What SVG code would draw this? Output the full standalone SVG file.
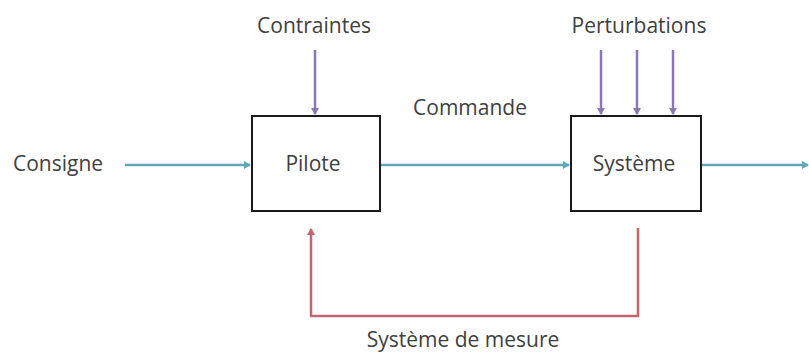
<svg xmlns="http://www.w3.org/2000/svg" width="809" height="354" viewBox="0 0 809 354">
<style>
text{font-family:"Open Sans","Liberation Sans",sans-serif;font-size:21px;fill:#404040}
.box{fill:#fff;stroke:#1a1a1a;stroke-width:2}
.t{stroke:#5fa8b8;stroke-width:2.5;fill:none}
.p{stroke:#8a78b4;stroke-width:2.5;fill:none}
.r{stroke:#c4666e;stroke-width:2.5;fill:none}
</style>
<defs>
<marker id="at" markerWidth="8" markerHeight="8" refX="6" refY="4" orient="auto" markerUnits="userSpaceOnUse"><path d="M0,0 L7,4 L0,8 z" fill="#5fa8b8"/></marker>
<marker id="ap" markerWidth="8" markerHeight="8" refX="6" refY="4" orient="auto" markerUnits="userSpaceOnUse"><path d="M0,0 L7,4 L0,8 z" fill="#8a78b4"/></marker>
<marker id="ar" markerWidth="8" markerHeight="8" refX="6" refY="4" orient="auto" markerUnits="userSpaceOnUse"><path d="M0,0 L7,4 L0,8 z" fill="#c4666e"/></marker>
</defs>
<rect width="809" height="354" fill="#fff"/>
<g id="connectors">
<line class="t" x1="125" y1="165" x2="250" y2="165" marker-end="url(#at)"/>
<line class="t" x1="381" y1="165" x2="569" y2="165" marker-end="url(#at)"/>
<line class="t" x1="702" y1="165" x2="808" y2="165" marker-end="url(#at)"/>
<line class="p" x1="315" y1="50" x2="315" y2="114" marker-end="url(#ap)"/>
<line class="p" x1="601" y1="50" x2="601" y2="114" marker-end="url(#ap)"/>
<line class="p" x1="637" y1="50" x2="637" y2="114" marker-end="url(#ap)"/>
<line class="p" x1="673" y1="50" x2="673" y2="114" marker-end="url(#ap)"/>
<polyline class="r" points="638,228 638,316 311,316 311,229" marker-end="url(#ar)"/>
</g>
<g id="pilote">
<rect class="box" x="252" y="116" width="128" height="95"/>
<text x="313" y="171" text-anchor="middle">Pilote</text>
</g>
<g id="systeme">
<rect class="box" x="571" y="116" width="130" height="95"/>
<text x="634" y="171" text-anchor="middle">Système</text>
</g>
<g id="labels">
<text x="58" y="171" text-anchor="middle">Consigne</text>
<text x="314" y="33" text-anchor="middle">Contraintes</text>
<text x="470" y="115" text-anchor="middle">Commande</text>
<text x="639" y="33" text-anchor="middle">Perturbations</text>
<text x="463" y="347" text-anchor="middle">Système de mesure</text>
</g>
</svg>
